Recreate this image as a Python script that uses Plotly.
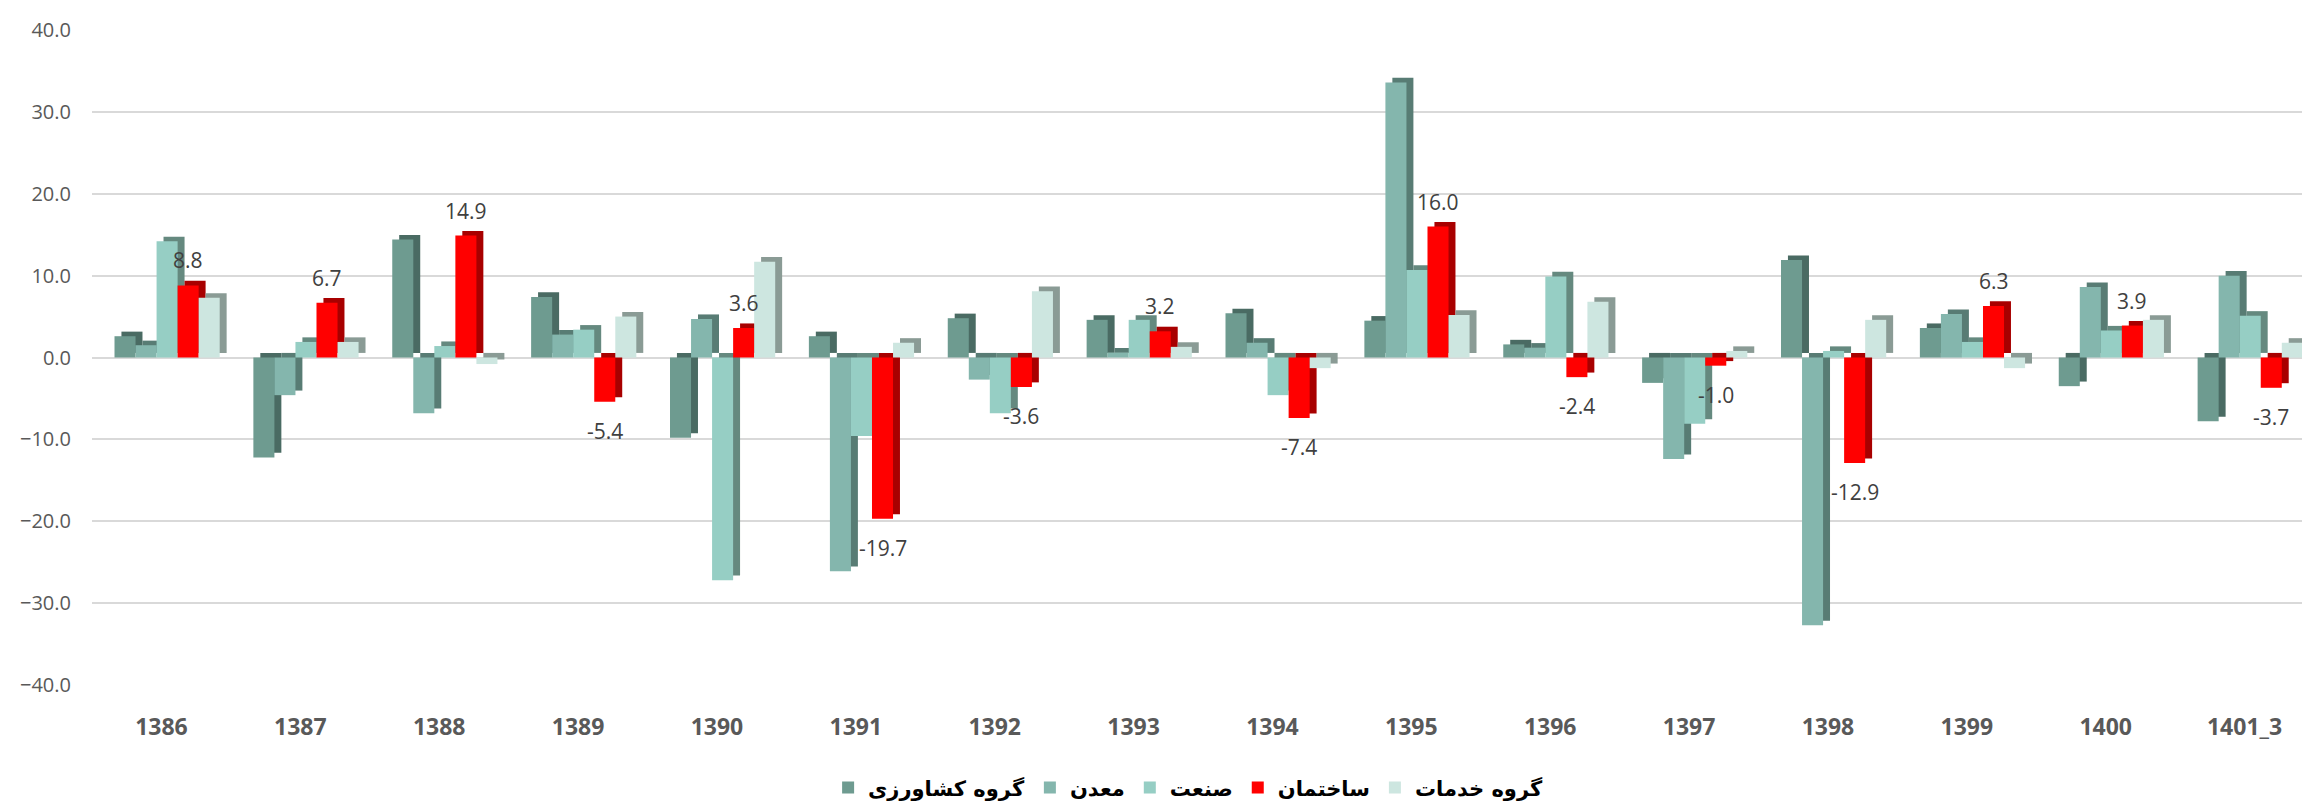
import plotly.graph_objects as go

categories = ["1386", "1387", "1388", "1389", "1390", "1391", "1392", "1393",
              "1394", "1395", "1396", "1397", "1398", "1399", "1400", "1401_3"]

agri = [2.6, -12.2, 14.4, 7.4, -9.8, 2.6, 4.8, 4.6, 5.4, 4.5, 1.6, -3.1, 11.9, 3.6, -3.5, -7.8]
mining = [1.5, -4.6, -6.8, 2.8, 4.7, -26.1, -2.7, 0.6, 1.8, 33.6, 1.2, -12.4, -32.7, 5.3, 8.6, 10.0]
industry = [14.2, 1.9, 1.4, 3.4, -27.2, -9.6, -6.8, 4.6, -4.6, 10.7, 9.9, -8.1, 0.8, 1.9, 3.3, 5.1]
construction = [8.8, 6.7, 14.9, -5.4, 3.6, -19.7, -3.6, 3.2, -7.4, 16.0, -2.4, -1.0, -12.9, 6.3, 3.9, -3.7]
services = [7.3, 1.9, -0.8, 5.0, 11.7, 1.8, 8.1, 1.3, -1.3, 5.2, 6.8, 0.8, 4.6, -1.3, 4.6, 1.8]

series_names = ["گروه کشاورزی", "معدن", "صنعت", "ساختمان", "گروه خدمات"]
series_values = [agri, mining, industry, construction, services]
front_colors = ["#6E9B90", "#84B6AD", "#96CEC4", "#FF0000", "#CDE6E0"]
side_colors = ["#4A6B63", "#587C74", "#65897F", "#A80000", "#8A9B95"]

y_ticks = [-40, -30, -20, -10, 0, 10, 20, 30, 40]

bar_w = 0.1515
start = -0.338
depth_x = 0.05
depth_y = 0.56

fig = go.Figure()

# side/top faces (depth shadows) drawn first
for i, (vals, sc) in enumerate(zip(series_values, side_colors)):
    fig.add_trace(go.Bar(
        x=categories, y=vals, base=depth_y,
        offset=start + i * bar_w + depth_x, width=bar_w,
        marker=dict(color=sc, line=dict(width=0)),
        showlegend=False, hoverinfo="skip",
    ))

# front faces
for i, (name, vals, fc) in enumerate(zip(series_names, series_values, front_colors)):
    fig.add_trace(go.Bar(
        x=categories, y=vals, name=name,
        offset=start + i * bar_w, width=bar_w,
        marker=dict(color=fc, line=dict(width=0)),
    ))

# data labels for construction series
red_idx = 3
for j, v in enumerate(construction):
    fig.add_annotation(
        x=j + start + red_idx * bar_w + bar_w / 2, y=v,
        xref="x", yref="y",
        text=f"{v:.1f}", showarrow=False,
        yshift=25 if v >= 0 else -29,
        font=dict(family="Open Sans", size=21, color="#404040"),
    )

fig.update_layout(
    barmode="overlay",
    width=2310, height=804,
    margin=dict(l=84, r=4, t=22, b=121),
    paper_bgcolor="white", plot_bgcolor="white",
    showlegend=True,
    legend=dict(
        orientation="h", x=0.4933, xanchor="center", y=-0.157, yanchor="middle",
        font=dict(family="DejaVu Sans", size=21, color="#000000", weight="bold"),
        traceorder="normal", itemwidth=30,
    ),
    xaxis=dict(
        type="category", range=[-0.5, 15.5],
        showgrid=False, zeroline=False, showline=False, ticks="",
        tickfont=dict(family="Open Sans", size=23, color="#595959", weight="bold"),
        ticklabelstandoff=26,
    ),
    yaxis=dict(
        range=[-40, 40], tickvals=y_ticks, tickformat=".1f",
        showgrid=True, gridcolor="#D9D9D9", gridwidth=2,
        zeroline=True, zerolinecolor="#D9D9D9", zerolinewidth=2,
        showline=False, ticks="",
        tickfont=dict(family="Open Sans", size=20, color="#595959"),
        ticklabelstandoff=20,
    ),
)

fig.write_html("out.html")
